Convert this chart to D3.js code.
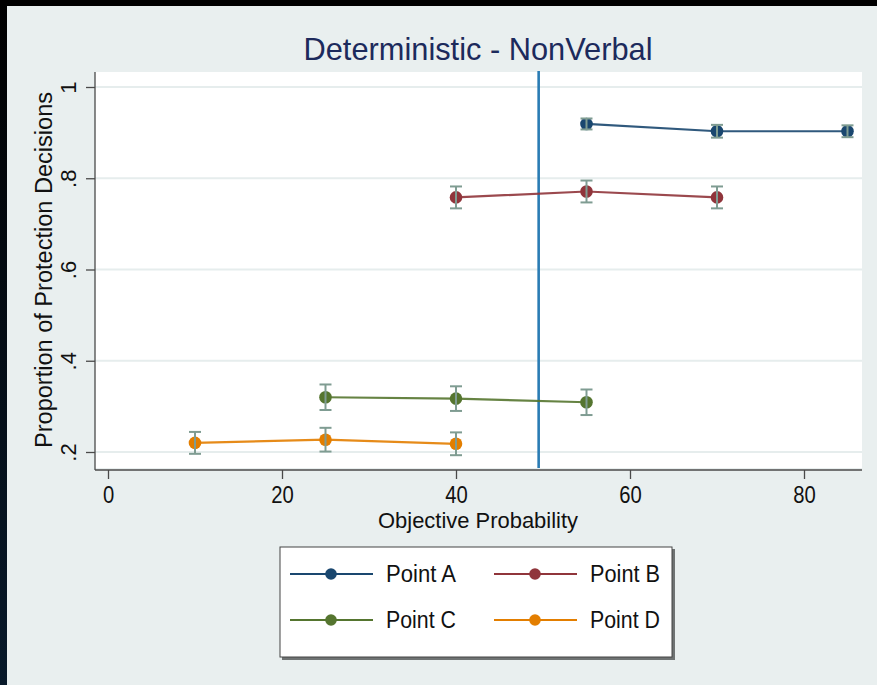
<!DOCTYPE html>
<html>
<head>
<meta charset="utf-8">
<script src="https://cdn.jsdelivr.net/npm/d3@7"></script>
<style>
  html, body { margin: 0; padding: 0; background: #e9efef; }
  svg { display: block; }
  text { font-family: "Liberation Sans", Arial, Helvetica, sans-serif; }
</style>
</head>
<body>
<svg id="chart" width="877" height="685"></svg>
<script>
// ---- data ----
const seriesNames = ["Point A", "Point B", "Point C", "Point D"];
const seriesColors = ["#1a476f", "#90353b", "#55752f", "#e37e00"];

const probA = [55, 70, 85];
const meanA = [0.919, 0.903, 0.903];
const errA  = [0.012, 0.014, 0.013];

const probB = [40, 55, 70];
const meanB = [0.758, 0.771, 0.758];
const errB  = [0.024, 0.024, 0.024];

const probC = [25, 40, 55];
const meanC = [0.320, 0.317, 0.309];
const errC  = [0.028, 0.027, 0.028];

const probD = [10, 25, 40];
const meanD = [0.220, 0.227, 0.218];
const errD  = [0.024, 0.026, 0.025];

const xTicks = [0, 20, 40, 60, 80];
const yTicks = [0.2, 0.4, 0.6, 0.8, 1];
const yTickLabels = [".2", ".4", ".6", ".8", "1"];
const refLine = 49.5;

const titleText = "Deterministic - NonVerbal";
const xTitle = "Objective Probability";
const yTitle = "Proportion of Protection Decisions";

// ---- layout ----
const svg = d3.select("#chart");
const W = 877, H = 685;
const plot = { left: 95, right: 862, top: 72, bottom: 470 };

const x = d3.scaleLinear().domain([0, 80]).range([108, 804]);
const y = d3.scaleLinear().domain([0.2, 1]).range([452, 87]);

// background + frame edges
svg.append("rect").attr("width", W).attr("height", H).attr("fill", "#e9efef");
const grad = svg.append("defs").append("linearGradient")
  .attr("id", "edge").attr("x1", 0).attr("y1", 0).attr("x2", 0).attr("y2", 1);
grad.append("stop").attr("offset", "0%").attr("stop-color", "#000000");
grad.append("stop").attr("offset", "100%").attr("stop-color", "#08192a");
svg.append("rect").attr("x", 0).attr("y", 0).attr("width", 7).attr("height", H).attr("fill", "url(#edge)");
svg.append("rect").attr("x", 0).attr("y", 0).attr("width", W).attr("height", 6).attr("fill", "#000");

// plot region
svg.append("rect")
  .attr("x", plot.left).attr("y", plot.top)
  .attr("width", plot.right - plot.left).attr("height", plot.bottom - 2 - plot.top)
  .attr("fill", "#ffffff");

// gridlines
svg.append("g").selectAll("line").data(yTicks).join("line")
  .attr("x1", plot.left).attr("x2", plot.right)
  .attr("y1", d => y(d)).attr("y2", d => y(d))
  .attr("stroke", "#e6eded").attr("stroke-width", 2);

// axes
const yAxis = svg.append("g").attr("transform", `translate(${plot.left},0)`)
  .call(d3.axisLeft(y).tickValues(yTicks).tickSize(9).tickSizeOuter(0)
    .tickFormat((d, i) => yTickLabels[i]));
yAxis.select(".domain").remove();
yAxis.selectAll(".tick line").attr("stroke", "#4a4a4a").attr("stroke-width", 1.3);
yAxis.selectAll(".tick text")
  .attr("x", 0).attr("y", 0).attr("dy", 0)
  .attr("transform", "translate(-19,0) rotate(-90)")
  .attr("text-anchor", "middle")
  .attr("font-size", 22).attr("fill", "#111");

const xAxis = svg.append("g").attr("transform", `translate(0,${plot.bottom})`)
  .call(d3.axisBottom(x).tickValues(xTicks).tickSize(9).tickSizeOuter(0));
xAxis.select(".domain").remove();
xAxis.selectAll(".tick line").attr("stroke", "#4a4a4a").attr("stroke-width", 1.3);
xAxis.selectAll(".tick text")
  .attr("y", 33).attr("dy", 0)
  .attr("transform", "scale(0.88,1)")
  .attr("font-size", 23).attr("fill", "#111");

svg.append("line").attr("x1", plot.left).attr("x2", plot.left)
  .attr("y1", plot.top).attr("y2", plot.bottom)
  .attr("stroke", "#4a4a4a").attr("stroke-width", 1.3);
svg.append("line").attr("x1", plot.left).attr("x2", plot.right)
  .attr("y1", plot.bottom).attr("y2", plot.bottom)
  .attr("stroke", "#4a4a4a").attr("stroke-width", 1.3);

// reference line
svg.append("line")
  .attr("x1", x(refLine)).attr("x2", x(refLine))
  .attr("y1", plot.top - 1).attr("y2", plot.bottom - 2)
  .attr("stroke", "#2a7cb4").attr("stroke-width", 2.6);

// series
const series = [
  { name: seriesNames[0], color: seriesColors[0], p: probA, m: meanA, e: errA },
  { name: seriesNames[1], color: seriesColors[1], p: probB, m: meanB, e: errB },
  { name: seriesNames[2], color: seriesColors[2], p: probC, m: meanC, e: errC },
  { name: seriesNames[3], color: seriesColors[3], p: probD, m: meanD, e: errD }
];

const line = d3.line().x(d => x(d.p)).y(d => y(d.m));
const ebColor = "#7f9c92";

series.forEach(s => {
  const pts = s.p.map((p, i) => ({ p, m: s.m[i], e: s.e[i] }));
  const g = svg.append("g");
  g.append("path").datum(pts).attr("d", line)
    .attr("fill", "none").attr("stroke", s.color).attr("stroke-width", 2.2).attr("stroke-opacity", 0.9);
  g.selectAll("circle").data(pts).join("circle")
    .attr("cx", d => x(d.p)).attr("cy", d => y(d.m)).attr("r", 6.3)
    .attr("fill", s.color);
  const eb = g.selectAll("g.eb").data(pts).join("g").attr("class", "eb");
  eb.append("line")
    .attr("x1", d => x(d.p)).attr("x2", d => x(d.p))
    .attr("y1", d => y(d.m - d.e)).attr("y2", d => y(d.m + d.e))
    .attr("stroke", ebColor).attr("stroke-width", 2);
  eb.append("line")
    .attr("x1", d => x(d.p) - 6).attr("x2", d => x(d.p) + 6)
    .attr("y1", d => y(d.m - d.e)).attr("y2", d => y(d.m - d.e))
    .attr("stroke", ebColor).attr("stroke-width", 2);
  eb.append("line")
    .attr("x1", d => x(d.p) - 6).attr("x2", d => x(d.p) + 6)
    .attr("y1", d => y(d.m + d.e)).attr("y2", d => y(d.m + d.e))
    .attr("stroke", ebColor).attr("stroke-width", 2);
});

// titles
svg.append("text").attr("x", 478).attr("y", 60)
  .attr("text-anchor", "middle").attr("font-size", 32).attr("fill", "#1c2a5c")
  .attr("textLength", 349).attr("lengthAdjust", "spacingAndGlyphs")
  .text(titleText);

svg.append("text").attr("x", 478).attr("y", 528)
  .attr("text-anchor", "middle").attr("font-size", 22).attr("fill", "#111")
  .attr("textLength", 200).attr("lengthAdjust", "spacingAndGlyphs")
  .text(xTitle);

svg.append("text")
  .attr("transform", "translate(52,270) rotate(-90)")
  .attr("text-anchor", "middle").attr("font-size", 23).attr("fill", "#111")
  .attr("textLength", 356).attr("lengthAdjust", "spacingAndGlyphs")
  .text(yTitle);

// legend
const lg = svg.append("g");
lg.append("rect").attr("x", 282).attr("y", 549).attr("width", 393).attr("height", 111)
  .attr("fill", "#6f7373");
lg.append("rect").attr("x", 280).attr("y", 547).attr("width", 392).attr("height", 110)
  .attr("fill", "#ffffff").attr("stroke", "#444").attr("stroke-width", 1);

const legCols = [290, 494];
const legRows = [574, 620];
series.forEach((s, i) => {
  const cx = legCols[i % 2], cy = legRows[Math.floor(i / 2)];
  lg.append("line").attr("x1", cx).attr("x2", cx + 83).attr("y1", cy).attr("y2", cy)
    .attr("stroke", s.color).attr("stroke-width", 2);
  lg.append("circle").attr("cx", cx + 41).attr("cy", cy).attr("r", 5.8).attr("fill", s.color);
  lg.append("text").attr("x", cx + 96).attr("y", cy).attr("dy", "0.36em")
    .attr("font-size", 23).attr("fill", "#111")
    .attr("textLength", 70).attr("lengthAdjust", "spacingAndGlyphs")
    .text(s.name);
});
</script>
</body>
</html>
